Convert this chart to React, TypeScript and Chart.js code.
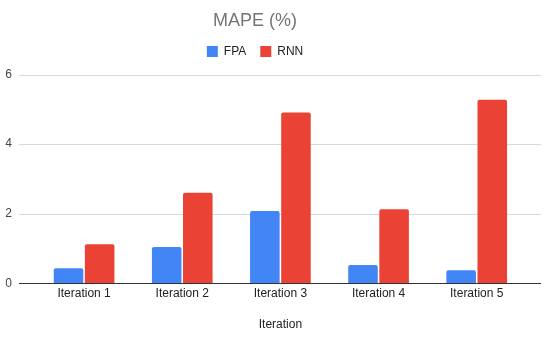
import React, { useEffect, useRef } from "react";
import { Chart, registerables } from "chart.js";

Chart.register(...registerables);

const categories = ["Iteration 1", "Iteration 2", "Iteration 3", "Iteration 4", "Iteration 5"];
const fpaValues = [0.43, 1.04, 2.08, 0.52, 0.37];
const rnnValues = [1.12, 2.6, 4.91, 2.13, 5.28];
const seriesNames = ["FPA", "RNN"];
const chartTitle = "MAPE (%)";
const xAxisTitle = "Iteration";

const FONT = "Arial, 'Liberation Sans', sans-serif";

const gridPlugin = {
  id: "extendedGrid",
  beforeDatasetsDraw(chart: any) {
    const y = chart.scales.y;
    const ctx = chart.ctx;
    const x0 = 19;
    const x1 = 541;
    ctx.save();
    y.ticks.forEach((t: any) => {
      const py = Math.round(y.getPixelForValue(t.value)) + 0.5;
      ctx.beginPath();
      ctx.strokeStyle = t.value === 0 ? "#333333" : "#d9d9d9";
      ctx.lineWidth = 1;
      ctx.moveTo(x0, py);
      ctx.lineTo(x1, py);
      ctx.stroke();
    });
    ctx.restore();
  },
  afterDatasetsDraw(chart: any) {
    const y = chart.scales.y;
    const ctx = chart.ctx;
    const py = Math.round(y.getPixelForValue(0)) + 0.5;
    ctx.save();
    ctx.beginPath();
    ctx.strokeStyle = "#333333";
    ctx.lineWidth = 1;
    ctx.moveTo(19, py);
    ctx.lineTo(541, py);
    ctx.stroke();
    ctx.restore();
  },
};

const shiftPlugin = {
  id: "shiftHeader",
  afterLayout(chart: any) {
    const up = 7;
    const shrink = 21;
    const blocks = [chart.titleBlock, chart.legend];
    blocks.forEach((b: any) => {
      if (!b) return;
      b.top -= up;
      b.bottom -= up;
      b.right -= shrink;
    });
  },
};

export default function App() {
  const ref = useRef<HTMLCanvasElement | null>(null);

  useEffect(() => {
    if (!ref.current) return;
    Chart.defaults.font.family = FONT;
    const chart = new Chart(ref.current, {
      type: "bar",
      data: {
        labels: categories,
        datasets: [
          {
            label: seriesNames[0],
            data: fpaValues,
            backgroundColor: "#4285F4",
            borderRadius: { topLeft: 2, topRight: 2, bottomLeft: 0, bottomRight: 0 },
            borderSkipped: "bottom",
            categoryPercentage: 0.634,
            barPercentage: 0.95,
          },
          {
            label: seriesNames[1],
            data: rnnValues,
            backgroundColor: "#EA4335",
            borderRadius: { topLeft: 2, topRight: 2, bottomLeft: 0, bottomRight: 0 },
            borderSkipped: "bottom",
            categoryPercentage: 0.634,
            barPercentage: 0.95,
          },
        ],
      },
      options: {
        responsive: false,
        animation: false,
        layout: { padding: { left: 5.3, right: 24.2, top: 7, bottom: 2 } },
        plugins: {
          title: {
            display: true,
            text: chartTitle,
            color: "#757575",
            font: { size: 18, weight: "normal", family: FONT },
            padding: { top: 10, bottom: 0 },
          },
          legend: {
            display: true,
            position: "top",
            labels: {
              boxWidth: 11,
              boxHeight: 11,
              padding: 14,
              color: "#222222",
              font: { size: 12, family: FONT },
            },
          },
          tooltip: { enabled: false },
        },
        scales: {
          x: {
            grid: { display: false, drawTicks: false },
            border: { display: false },
            ticks: { color: "#222222", font: { size: 12, family: FONT }, padding: 3 },
            title: {
              display: true,
              text: xAxisTitle,
              color: "#222222",
              font: { size: 12, family: FONT },
              padding: { top: 14, bottom: 3 },
            },
          },
          y: {
            min: 0,
            max: 6,
            grid: { display: false, drawTicks: false },
            border: { display: false },
            afterFit(scale: any) {
              scale.width = 29.7;
            },
            ticks: {
              stepSize: 2,
              color: "#444444",
              font: { size: 12, family: FONT },
              padding: 23,
            },
          },
        },
      },
      plugins: [gridPlugin, shiftPlugin],
    });
    return () => chart.destroy();
  }, []);

  return (
    <div style={{ position: "absolute", left: 0, top: 0, width: 550, height: 337, background: "#fff" }}>
      <canvas ref={ref} width={550} height={337} style={{ display: "block" }} />
    </div>
  );
}
